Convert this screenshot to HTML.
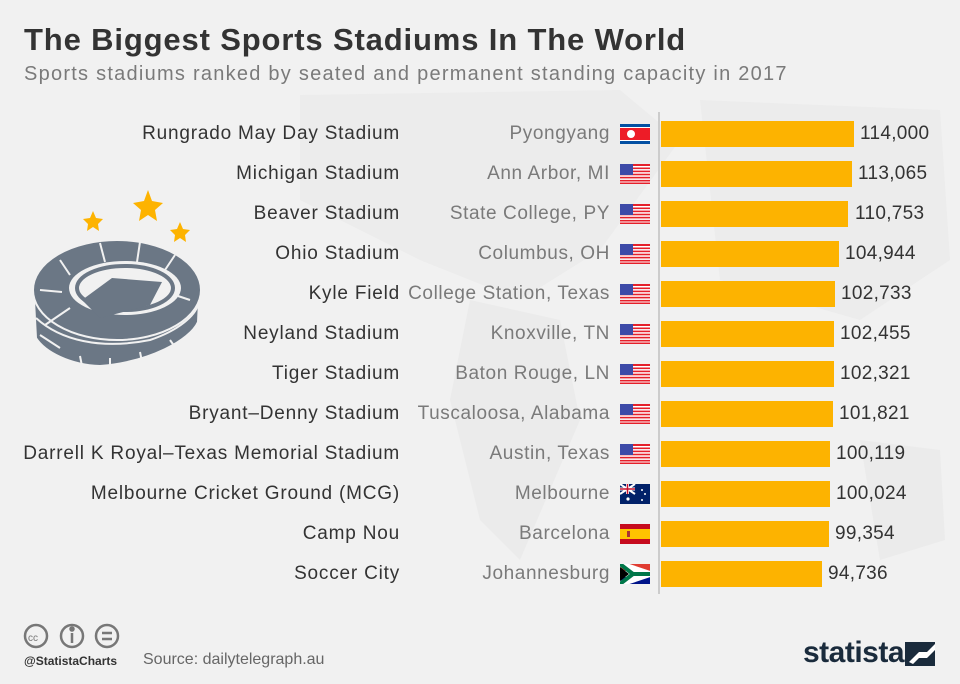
<!DOCTYPE html>
<html><head><meta charset="utf-8"><style>
body{margin:0;width:960px;height:684px;background:#f1f1f1;font-family:"Liberation Sans","DejaVu Sans",sans-serif;position:relative;overflow:hidden}
.t{position:absolute;left:24px;top:22px;font-size:31px;font-weight:bold;color:#333;letter-spacing:0.85px}
.s{position:absolute;left:24px;top:63px;font-size:20px;color:#7a7a7a;letter-spacing:1.25px}
.row{position:absolute;left:0;width:960px;height:40px}
.n{position:absolute;right:560px;top:9px;font-size:19px;color:#333;white-space:nowrap;letter-spacing:0.8px}
.c{position:absolute;right:350px;top:9px;font-size:19px;color:#7a7a7a;white-space:nowrap;letter-spacing:0.6px}
.f{position:absolute;left:620px;top:10px;width:30px;height:20px}
.b{position:absolute;left:661px;top:7px;height:26px;background:#fdb300}
.v{position:absolute;top:9px;font-size:19px;color:#333;letter-spacing:0.3px}
</style></head><body>
<svg style="position:absolute;left:0;top:0" width="960" height="684">
<path d="M300 95 L620 90 L680 140 L600 250 L520 300 L420 260 L300 200Z" fill="#ececec"/>
<path d="M470 300 L560 320 L580 420 L520 560 L480 520 L450 400Z" fill="#ebebeb"/>
<path d="M700 100 L940 110 L950 260 L860 320 L720 280Z" fill="#ececec"/>
<path d="M860 440 L940 450 L945 540 L880 560Z" fill="#ebebeb"/>
<line x1="659" y1="112" x2="659" y2="594" stroke="#ccc" stroke-width="2"/>
<g fill="#fdb300">
<polygon points="148,190 152,201 163,203 155,210 157,221 148,215 139,221 141,210 133,203 144,201"/>
<polygon points="93,211 96,218 103,219 98,224 99,231 93,227 87,231 88,224 83,219 90,218"/>
<polygon points="180,222 183,229 190,230 185,235 186,242 180,238 174,242 175,235 170,230 177,229"/>
</g>
<g fill="#6b7785" stroke="#f1f1f1" stroke-width="2">
<path d="M34 300 L36 338 C45 352 70 365 100 366 C150 362 190 340 198 322 L200 280Z"/>
<ellipse cx="117" cy="290" rx="84" ry="50"/>
<ellipse cx="125" cy="288" rx="56" ry="27" fill="#f1f1f1" stroke="none"/>
<ellipse cx="125" cy="288" rx="48" ry="22" fill="none" stroke="#6b7785" stroke-width="4"/>
<path d="M82 300 L112 278 L162 282 L150 305 L100 318Z" fill="#6b7785" stroke="none"/>
<path d="M40 335 L60 348 M80 356 L82 366 M110 358 L110 367 M140 352 L142 362 M170 340 L175 347 M36 318 C60 340 100 350 150 340 C180 330 195 315 198 305" fill="none"/>
<path d="M60 260 L70 275 M100 243 L105 262 M140 242 L137 262 M175 255 L165 270 M40 290 L62 292 M45 325 L70 308 M190 300 L178 296" fill="none"/>
</g>
<g transform="translate(24,624)" fill="none" stroke="#777" stroke-width="2.5">
<circle cx="12" cy="12" r="11"/><circle cx="48" cy="12" r="11"/><circle cx="83" cy="12" r="11"/>
<path d="M78 9 H88 M78 15 H88"/><path d="M48 9 V19"/><circle cx="48" cy="5" r="1.5" fill="#777"/>
</g>
<text x="28" y="641" font-size="10" fill="#777" font-family="Liberation Sans">cc</text>
<g transform="translate(905,642)"><rect width="30" height="24" fill="#1a2b3c"/><path d="M4 20 L14 10 L22 10 L30 2 L30 8 L22 16 L14 16 L8 22Z" fill="#fff"/></g>
</svg>
<div class="t">The Biggest Sports Stadiums In The World</div>
<div class="s">Sports stadiums ranked by seated and permanent standing capacity in 2017</div>
<div style="position:absolute;left:24px;top:654px;font-size:12px;color:#333;font-weight:bold">@StatistaCharts</div>
<div style="position:absolute;left:143px;top:651px;font-size:16px;color:#666">Source: dailytelegraph.au</div>
<div style="position:absolute;left:803px;top:636px;font-size:30px;font-weight:bold;color:#1a2b3c;letter-spacing:-0.5px">statista</div>

<div class="row" style="top:114px"><div class="n">Rungrado May Day Stadium</div><div class="c">Pyongyang</div><svg class="f" viewBox="0 0 30 20"><rect width="30" height="20" fill="#024fa2"/><rect y="3" width="30" height="14" fill="#fff"/><rect y="4" width="30" height="12" fill="#ed1c27"/><circle cx="11" cy="10" r="4" fill="#fff"/></svg><div class="b" style="width:193px"></div><div class="v" style="left:860px">114,000</div></div>
<div class="row" style="top:154px"><div class="n">Michigan Stadium</div><div class="c">Ann Arbor, MI</div><svg class="f"><use href="#us"/></svg><div class="b" style="width:191px"></div><div class="v" style="left:858px">113,065</div></div>
<div class="row" style="top:194px"><div class="n">Beaver Stadium</div><div class="c">State College, PY</div><svg class="f"><use href="#us"/></svg><div class="b" style="width:187px"></div><div class="v" style="left:855px">110,753</div></div>
<div class="row" style="top:234px"><div class="n">Ohio Stadium</div><div class="c">Columbus, OH</div><svg class="f"><use href="#us"/></svg><div class="b" style="width:178px"></div><div class="v" style="left:845px">104,944</div></div>
<div class="row" style="top:274px"><div class="n">Kyle Field</div><div class="c">College Station, Texas</div><svg class="f"><use href="#us"/></svg><div class="b" style="width:174px"></div><div class="v" style="left:841px">102,733</div></div>
<div class="row" style="top:314px"><div class="n">Neyland Stadium</div><div class="c">Knoxville, TN</div><svg class="f"><use href="#us"/></svg><div class="b" style="width:173px"></div><div class="v" style="left:840px">102,455</div></div>
<div class="row" style="top:354px"><div class="n">Tiger Stadium</div><div class="c">Baton Rouge, LN</div><svg class="f"><use href="#us"/></svg><div class="b" style="width:173px"></div><div class="v" style="left:840px">102,321</div></div>
<div class="row" style="top:394px"><div class="n">Bryant–Denny Stadium</div><div class="c">Tuscaloosa, Alabama</div><svg class="f"><use href="#us"/></svg><div class="b" style="width:172px"></div><div class="v" style="left:839px">101,821</div></div>
<div class="row" style="top:434px"><div class="n">Darrell K Royal–Texas Memorial Stadium</div><div class="c">Austin, Texas</div><svg class="f"><use href="#us"/></svg><div class="b" style="width:169px"></div><div class="v" style="left:836px">100,119</div></div>
<div class="row" style="top:474px"><div class="n">Melbourne Cricket Ground (MCG)</div><div class="c">Melbourne</div><svg class="f" viewBox="0 0 30 20"><rect width="30" height="20" fill="#012169"/><path d="M0 0L15 10M15 0L0 10" stroke="#fff" stroke-width="2"/><path d="M7.5 0V10M0 5H15" stroke="#fff" stroke-width="3"/><path d="M7.5 0V10M0 5H15" stroke="#c8102e" stroke-width="1.5"/><circle cx="22" cy="6" r="1" fill="#fff"/><circle cx="25" cy="10" r="1" fill="#fff"/><circle cx="22" cy="16" r="1" fill="#fff"/><circle cx="8" cy="15" r="1.6" fill="#fff"/></svg><div class="b" style="width:169px"></div><div class="v" style="left:836px">100,024</div></div>
<div class="row" style="top:514px"><div class="n">Camp Nou</div><div class="c">Barcelona</div><svg class="f" viewBox="0 0 30 20"><rect width="30" height="20" fill="#c60b1e"/><rect y="5" width="30" height="10" fill="#ffc400"/><rect x="7" y="7" width="3" height="6" fill="#a33"/></svg><div class="b" style="width:168px"></div><div class="v" style="left:835px">99,354</div></div>
<div class="row" style="top:554px"><div class="n">Soccer City</div><div class="c">Johannesburg</div><svg class="f" viewBox="0 0 30 20"><rect width="30" height="10" fill="#e03c31"/><rect y="10" width="30" height="10" fill="#001489"/><path d="M0 0L30 10L0 20 M0 10H30" stroke="#fff" stroke-width="6" fill="none"/><path d="M0 0L13 10L0 20 M13 10H30" stroke="#007749" stroke-width="4" fill="none"/><path d="M0 3L9 10L0 17Z" fill="#000"/></svg><div class="b" style="width:161px"></div><div class="v" style="left:828px">94,736</div></div>

<svg width="0" height="0" style="position:absolute"><defs><g id="us"><rect width="30" height="20" fill="#fff"/><g fill="#e5202b"><rect y="0" width="30" height="2"/><rect y="3.5" width="30" height="1.6"/><rect y="6.6" width="30" height="1.6"/><rect y="9.7" width="30" height="1.6"/><rect y="12.8" width="30" height="1.6"/><rect y="15.9" width="30" height="1.6"/><rect y="18.5" width="30" height="1.5"/></g><rect width="13" height="11" fill="#3d4aa8"/></g></defs></svg>
</body></html>
